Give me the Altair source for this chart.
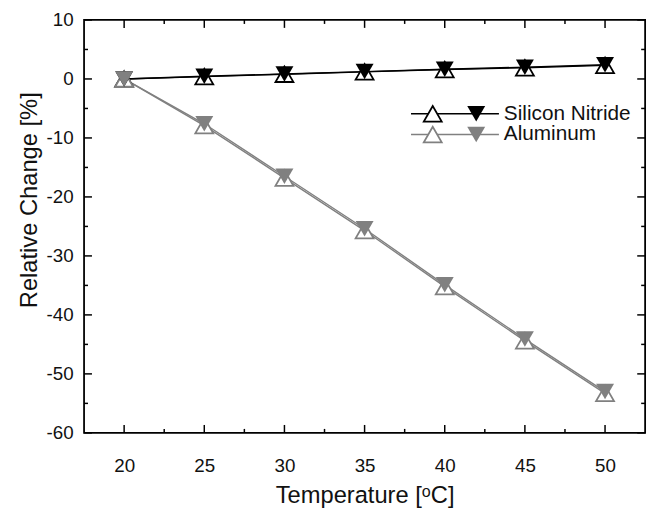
import altair as alt
import pandas as pd

# ---- data ----
temps = [20, 25, 30, 35, 40, 45, 50]
sin_open = [0.0, 0.4, 0.8, 1.2, 1.6, 1.9, 2.3]
sin_filled = [0.0, 0.45, 0.85, 1.25, 1.65, 2.0, 2.4]
al_open = [0.0, -7.9, -16.8, -25.7, -35.2, -44.4, -53.3]
al_filled = [0.0, -7.6, -16.5, -25.4, -34.9, -44.1, -53.0]

materials = ["Silicon Nitride", "Aluminum"]
colors = ["#000000", "#808080"]

x_major = [20, 25, 30, 35, 40, 45, 50]
x_minor = [22.5, 27.5, 32.5, 37.5, 42.5, 47.5]
y_major = [10, 0, -10, -20, -30, -40, -50, -60]
y_minor = [5, -5, -15, -25, -35, -45, -55]

W, H = 568, 418
FONT = "Liberation Sans"

rows = []
for series, material, kind, vals in [
    ("sin_open", "Silicon Nitride", "open", sin_open),
    ("sin_filled", "Silicon Nitride", "filled", sin_filled),
    ("al_open", "Aluminum", "open", al_open),
    ("al_filled", "Aluminum", "filled", al_filled),
]:
    for t, v in zip(temps, vals):
        rows.append({"x": t, "y": v, "series": series, "material": material, "kind": kind})
df = pd.DataFrame(rows)

xs = alt.Scale(domain=[17.5, 52.5], nice=False, zero=False)
ys = alt.Scale(domain=[-60, 10], nice=False, zero=False)
cs = alt.Scale(domain=materials, range=colors)

x_axis = alt.Axis(values=x_major, ticks=False, domain=False, grid=False,
                  title="Temperature [ᵒC]", labelFontSize=19, titleFontSize=24,
                  labelPadding=24, titlePadding=8, labelColor="#111", titleColor="#111",
                  titleFontWeight="normal", labelFont=FONT, titleFont=FONT)
y_axis = alt.Axis(values=y_major, ticks=False, domain=False, grid=False,
                  labelExpr="datum.value < 0 ? '-' + abs(datum.value) : '' + datum.value",
                  title="Relative Change [%]", labelFontSize=19, titleFontSize=24,
                  labelPadding=11, titlePadding=5, titleY=182,
                  labelColor="#111", titleColor="#111",
                  titleFontWeight="normal", labelFont=FONT, titleFont=FONT)

X = alt.X("x:Q", scale=xs, axis=x_axis)
Y = alt.Y("y:Q", scale=ys, axis=y_axis)
C = alt.Color("material:N", scale=cs, legend=None)
S = alt.Stroke("material:N", scale=cs, legend=None)

base = alt.Chart(df)

lines = base.mark_line(strokeWidth=1.4).encode(x=X, y=Y, color=C, detail="series:N")

open_pts = base.transform_filter(alt.datum.kind == "open").mark_point(
    shape="triangle-up", size=330, filled=False, fill="white", strokeWidth=1.8, opacity=1
).encode(x=X, y=Y, stroke=S)

filled_pts = base.transform_filter(alt.datum.kind == "filled").mark_point(
    shape="triangle-down", size=330, filled=True, opacity=1
).encode(x=X, y=Y, color=C)

# inward ticks on all four sides
xmaj = pd.DataFrame({"x": x_major})
xmin = pd.DataFrame({"x": x_minor})
ymaj = pd.DataFrame({"y": y_major})
ymin = pd.DataFrame({"y": y_minor})


def xticks(d, length):
    b = alt.Chart(d).mark_rule(color="black", strokeWidth=1.5)
    return [
        b.encode(x=X, y=alt.value(H), y2=alt.value(H - length)),
        b.encode(x=X, y=alt.value(0), y2=alt.value(length)),
    ]


def yticks(d, length):
    b = alt.Chart(d).mark_rule(color="black", strokeWidth=1.5)
    return [
        b.encode(y=Y, x=alt.value(0), x2=alt.value(length)),
        b.encode(y=Y, x=alt.value(W), x2=alt.value(W - length)),
    ]


tick_layers = xticks(xmaj, 8) + xticks(xmin, 4) + yticks(ymaj, 8) + yticks(ymin, 4)

# legend (drawn manually: line with open up-triangle and filled down-triangle)
leg = pd.DataFrame({"material": materials, "idx": [0, 1]})
legbase = alt.Chart(leg).transform_calculate(ly="95 + datum.idx * 21")
leg_line = legbase.mark_rule(strokeWidth=1.4).encode(
    x=alt.value(331), x2=alt.value(420), y=alt.Y("ly:Q", scale=None), color=C,
)
leg_open = legbase.mark_point(shape="triangle-up", size=330, filled=False, fill="white",
                              strokeWidth=1.8, opacity=1).encode(
    x=alt.value(353), y=alt.Y("ly:Q", scale=None), stroke=S,
)
leg_filled = legbase.mark_point(shape="triangle-down", size=330, filled=True, opacity=1).encode(
    x=alt.value(397), y=alt.Y("ly:Q", scale=None), color=C,
)
leg_text = legbase.mark_text(align="left", baseline="middle", fontSize=21, font=FONT,
                             color="#111").encode(
    x=alt.value(425), y=alt.Y("ly:Q", scale=None), text="material:N",
)

chart = alt.layer(
    lines, open_pts, filled_pts, *tick_layers, leg_line, leg_open, leg_filled, leg_text
).properties(
    width=W, height=H,
    autosize=alt.AutoSizeParams(type="none"),
    padding={"left": 77, "top": 9, "right": 10, "bottom": 78},
).configure(
    font=FONT, background="white",
).configure_view(
    stroke="black", strokeWidth=1.8
)

chart.save("out.html", embed_options={"renderer": "svg", "actions": False})
